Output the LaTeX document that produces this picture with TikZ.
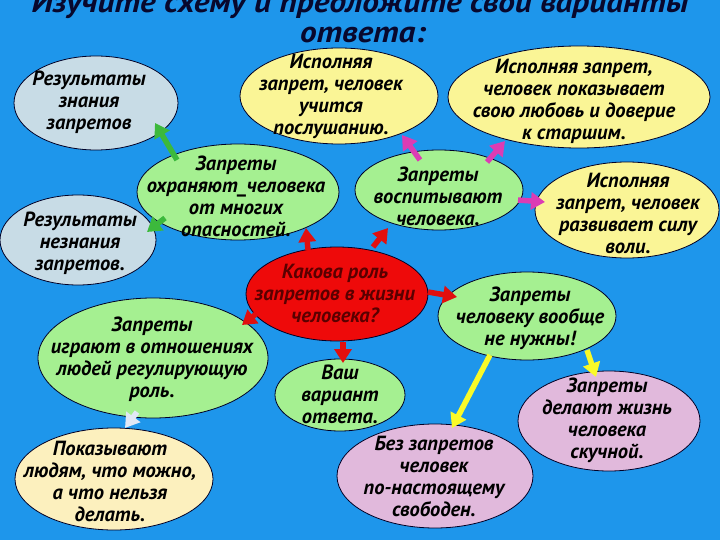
\documentclass[tikz,border=0pt]{standalone}
\usepackage{fontspec}
\setmainfont{PT Sans}
\usetikzlibrary{shapes.geometric,arrows.meta,calc}
\definecolor{bg}{RGB}{30,150,235}
\definecolor{cgray}{RGB}{200,220,230}
\definecolor{cyel}{RGB}{250,245,150}
\definecolor{cgreen}{RGB}{165,240,145}
\definecolor{ccream}{RGB}{252,240,190}
\definecolor{cpink}{RGB}{225,185,220}
\definecolor{cred}{RGB}{238,10,10}
\definecolor{aGreen}{RGB}{60,185,60}
\definecolor{aMag}{RGB}{220,60,180}
\definecolor{aRed}{RGB}{225,15,15}
\definecolor{aYel}{RGB}{250,250,40}
\definecolor{aWhite}{RGB}{225,232,245}
\definecolor{tnavy}{RGB}{8,8,45}
\definecolor{tred}{RGB}{90,0,0}
\newcommand\ttlstretch[1]{\scalebox{1.11}[1]{#1}}
\begin{document}
\begin{tikzpicture}[x=1pt,y=-1pt,
  bub/.style={ellipse, draw=black!85!blue, line width=0.8pt, inner sep=0pt},
  txt/.style={align=center, inner sep=0pt, text=black, font=\bfseries\itshape\fontsize{20.5}{22}\selectfont},
  ttl/.style={inner sep=0pt, anchor=base, font=\bfseries\itshape\fontsize{30}{30}\selectfont},
  arr/.style={line width=5.5pt, -{Triangle[width=17pt,length=14pt]}}]
\fill[bg] (0,0) rectangle (720,540);
\useasboundingbox (0,0) rectangle (720,540);
% title
\node[ttl, text=tnavy] (t1) at (360,13) {\ttlstretch{Изучите схему и предложите свои варианты}};
\node[ttl, text=tnavy] (t2) at (363,43) {\ttlstretch{ответа:}};
% ellipses
\node[bub, fill=cgray, minimum width=164pt, minimum height=94pt] (znan) at (96,103) {};
\node[bub, fill=cyel, minimum width=198pt, minimum height=96pt] (posl) at (339,96) {};
\node[bub, fill=cyel, minimum width=262pt, minimum height=102pt] (lub) at (579,97) {};
\node[bub, fill=cgreen, minimum width=202pt, minimum height=96pt] (ohr) at (238,192) {};
\node[bub, fill=cgray, minimum width=156pt, minimum height=90pt] (nezn) at (78,240) {};
\node[bub, fill=cgreen, minimum width=168pt, minimum height=80pt] (vosp) at (439,190) {};
\node[bub, fill=cyel, minimum width=184pt, minimum height=96pt] (razv) at (627,210) {};
\node[bub, fill=cred, minimum width=182pt, minimum height=94pt] (kak) at (337,294) {};
\node[bub, fill=cgreen, minimum width=178pt, minimum height=88pt] (nuzh) at (527,316) {};
\node[bub, fill=cgreen, minimum width=230pt, minimum height=120pt] (igr) at (153,358) {};
\node[bub, fill=cgreen, minimum width=130pt, minimum height=72pt] (vash) at (340,395) {};
\node[bub, fill=ccream, minimum width=198pt, minimum height=102pt] (pok) at (114,479) {};
\node[bub, fill=cpink, minimum width=196pt, minimum height=104pt] (svob) at (435,476) {};
\node[bub, fill=cpink, minimum width=182pt, minimum height=100pt] (sku) at (609,421) {};
% texts
\node[txt] (xznan) at (89,102) {Результаты\\знания\\запретов};
\node[txt] (xposl) at (331,96) {Исполняя\\запрет, человек\\учится\\послушанию.};
\node[txt] (xlub) at (574,101) {Исполняя запрет,\\человек показывает\\свою любовь и доверие\\к старшим.};
\node[txt] (xohr) at (236,196) {Запреты\\охраняют\_человека\\от многих\\опасностей.};
\node[txt] (xnezn) at (80,243) {Результаты\\незнания\\запретов.};
\node[txt] (xvosp) at (438,196) {Запреты\\воспитывают\\человека.};
\node[txt] (xrazv) at (628,213) {Исполняя\\запрет, человек\\развивает силу\\воли.};
\node[txt, text=tred] (xkak) at (335,293) {Какова роль\\запретов в жизни\\человека?};
\node[txt] (xnuzh) at (530,318) {Запреты\\человеку вообще\\не нужны!};
\node[txt] (xigr) at (152,359) {Запреты\\играют в отношениях\\людей регулирующую\\роль.};
\node[txt] (xvash) at (340,394) {Ваш\\вариант\\ответа.};
\node[txt] (xpok) at (110,481) {Показывают\\людям, что можно,\\а что нельзя\\делать.};
\node[txt] (xsvob) at (434,476) {Без запретов\\человек\\по-настоящему\\свободен.};
\node[txt] (xsku) at (607,420) {Запреты\\делают жизнь\\человека\\скучной.};
% arrows
\draw[arr, aGreen] ($(ohr)+(-61,-32)$) -- ($(znan)+(59,20)$);
\draw[arr, aGreen] ($(ohr)+(-73,26)$) -- ($(nezn)+(69,-8)$);
\draw[arr, aMag] ($(vosp)+(-19,-30)$) -- ($(posl)+(63,39)$);
\draw[arr, aMag] ($(vosp)+(48,-28)$) -- ($(lub)+(-74,44)$);
\draw[arr, aMag] ($(vosp)+(79,10)$) -- ($(razv)+(-82,-8)$);
\draw[arr, aRed] ($(kak)+(-29,-44)$) -- ($(ohr)+(68,36)$);
\draw[arr, aRed] ($(kak)+(36,-47)$) -- ($(vosp)+(-51,38)$);
\draw[arr, aRed] ($(kak)+(91,-2)$) -- ($(nuzh)+(-70,-19)$);
\draw[arr, aRed] ($(kak)+(-81,20)$) -- ($(igr)+(89,-33)$);
\draw[arr, aRed] ($(kak)+(6,48)$) -- ($(vash)+(3,-32)$);
\draw[arr, aWhite] ($(igr)+(-16,54)$) -- ($(pok)+(11,-51)$);
\draw[arr, aYel] ($(nuzh)+(-37,39)$) -- ($(svob)+(17,-48)$);
\draw[arr, aYel] ($(nuzh)+(60,34)$) -- ($(sku)+(-13,-44)$);
\end{tikzpicture}
\end{document}
